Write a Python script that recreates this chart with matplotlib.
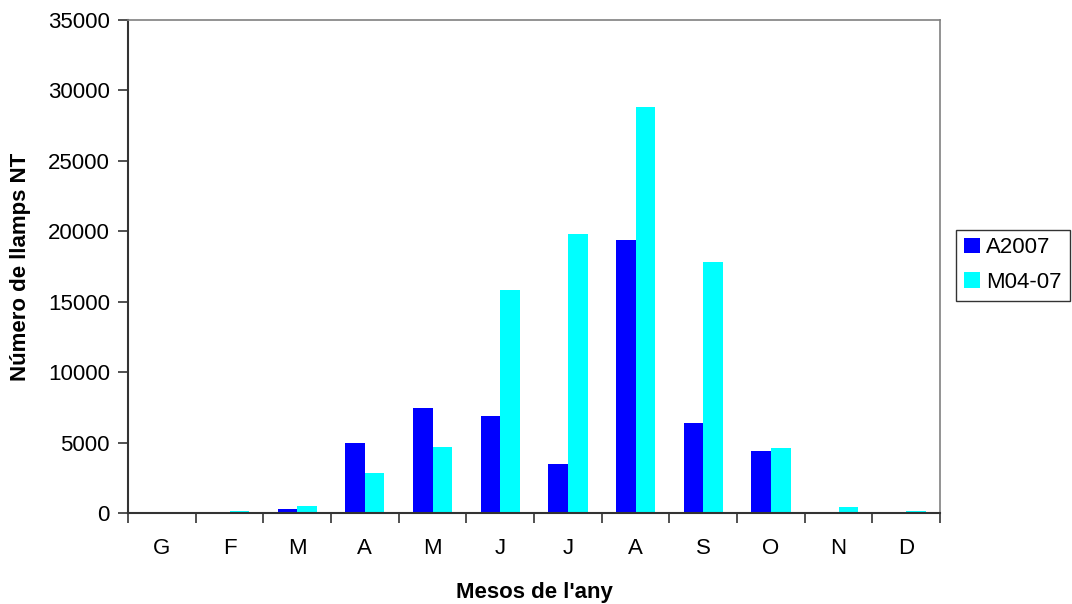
import matplotlib.pyplot as plt
import numpy as np

plt.rcParams['font.family'] = ['Liberation Sans', 'DejaVu Sans']

months = ['G', 'F', 'M', 'A', 'M', 'J', 'J', 'A', 'S', 'O', 'N', 'D']
a2007 = [0, 0, 280, 4970, 7450, 6850, 3450, 19350, 6400, 4420, 0, 0]
m0407 = [0, 130, 500, 2830, 4650, 15800, 19800, 28800, 17850, 4640, 420, 130]

fig = plt.figure(figsize=(10.72, 6.04), dpi=100)
ax = fig.add_axes([0.1194, 0.1507, 0.7576, 0.8162])

x = np.arange(len(months))
w = 0.29
ax.bar(x - w / 2, a2007, w, color='#0000ff', label='A2007')
ax.bar(x + w / 2, m0407, w, color='#00ffff', label='M04-07')

ax.set_xlim(-0.5, len(months) - 0.5)
ax.set_ylim(0, 35000)
ax.set_yticks(np.arange(0, 35001, 5000))
ax.set_xticks(x)
ax.set_xticklabels(months)
ax.set_xticks(np.arange(-0.5, len(months), 1), minor=True)
ax.tick_params(axis='x', which='major', length=0, pad=18, labelsize=16)
ax.tick_params(axis='x', which='minor', length=7, width=1.2, color='#333333', direction='out')
ax.tick_params(axis='y', length=7, width=1.2, color='#333333', direction='out', labelsize=16, pad=6)

for s in ['top', 'right']:
    ax.spines[s].set_color('#808080')
    ax.spines[s].set_linewidth(1.2)
for s in ['left', 'bottom']:
    ax.spines[s].set_color('#333333')
    ax.spines[s].set_linewidth(1.5)

ax.set_xlabel("Mesos de l'any", fontsize=16, fontweight='bold', labelpad=16.5)
ax.set_ylabel('Número de llamps NT', fontsize=16, fontweight='bold', labelpad=12)

leg = fig.legend(loc='center left', bbox_to_anchor=(0.892, 0.561), fontsize=16,
                 frameon=True, fancybox=False, edgecolor='black', borderaxespad=0,
                 handlelength=0.7, handleheight=0.7, handletextpad=0.3,
                 borderpad=0.35, labelspacing=0.6)
leg.get_frame().set_linewidth(1.0)

fig.savefig('out.png', dpi=100)
